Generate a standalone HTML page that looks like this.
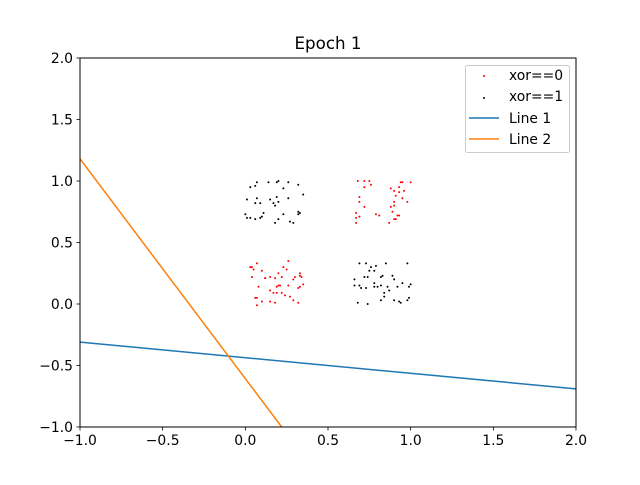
<!DOCTYPE html>
<html><head><meta charset="utf-8"><style>
body{margin:0;background:#fff}
svg text{font-family:"DejaVu Sans","Liberation Sans",sans-serif;fill:#000}
</style></head><body>
<svg id="chart" width="640" height="480" xmlns="http://www.w3.org/2000/svg">
<rect width="640" height="480" fill="#fff"/>
<text x="328" y="49" font-size="16.7" text-anchor="middle">Epoch 1</text>
<g id="plot"></g>
<rect x="80" y="58" width="496" height="369" fill="none" stroke="#000" stroke-width="1"/>
<g id="axes"></g>
<g>
<rect x="465.5" y="65.5" width="104" height="87" rx="2" fill="#fff" fill-opacity="0.8" stroke="#ccc"/>
<circle cx="484" cy="76" r="1" fill="red"/>
<text x="509" y="80" font-size="13.9">xor==0</text>
<circle cx="484" cy="98" r="1" fill="#000"/>
<text x="509" y="101" font-size="13.9">xor==1</text>
<line x1="469" y1="118" x2="499" y2="118" stroke="#1f77b4" stroke-width="1.5"/>
<text x="509" y="123" font-size="13.9">Line 1</text>
<line x1="469" y1="139" x2="499" y2="139" stroke="#ff7f0e" stroke-width="1.5"/>
<text x="509" y="144" font-size="13.9">Line 2</text>
</g>
</svg>
<script>
const xTicks=[-1.0,-0.5,0.0,0.5,1.0,1.5,2.0];
const yTicks=[-1.0,-0.5,0.0,0.5,1.0,1.5,2.0];
const xTickLabels=["\u22121.0","\u22120.5","0.0","0.5","1.0","1.5","2.0"];
const yTickLabels=["\u22121.0","\u22120.5","0.0","0.5","1.0","1.5","2.0"];
const redX=[0.68,0.72,0.75,0.76,0.72,0.94,0.95,1.00,0.88,0.93,0.96,0.90,0.93,0.91,0.69,0.69,0.95,0.98,0.90,0.72,0.90,0.88,0.89,0.67,0.69,0.79,0.81,0.92,0.93,0.67,0.67,0.87,0.90,0.91,
0.07,0.03,0.04,0.05,0.26,0.10,0.23,0.25,0.20,0.04,0.12,0.12,0.15,0.18,0.22,0.30,0.33,0.33,0.34,0.29,0.08,0.20,0.21,0.26,0.35,0.33,0.32,0.15,0.19,0.17,0.19,0.22,0.24,0.27,0.06,0.07,0.10,0.15,0.18,0.29,0.32,0.07];
const redY=[1.00,1.00,1.00,0.97,0.95,0.99,0.99,0.99,0.94,0.95,0.92,0.92,0.91,0.88,0.87,0.83,0.86,0.83,0.83,0.79,0.80,0.79,0.75,0.74,0.71,0.73,0.72,0.72,0.72,0.70,0.66,0.66,0.69,0.69,
0.33,0.30,0.30,0.28,0.35,0.27,0.30,0.28,0.25,0.22,0.21,0.21,0.22,0.21,0.22,0.22,0.25,0.23,0.22,0.20,0.14,0.15,0.15,0.15,0.16,0.14,0.13,0.11,0.14,0.09,0.09,0.09,0.07,0.06,0.05,0.05,0.02,0.02,0.01,0.03,0.01,-0.01];
const blackX=[0.07,0.03,0.06,0.14,0.19,0.20,0.26,0.32,0.23,0.35,0.01,0.07,0.06,0.09,0.15,0.17,0.19,0.20,0.26,0.18,0.00,0.01,0.03,0.06,0.09,0.10,0.11,0.23,0.20,0.18,0.27,0.29,0.32,0.33,0.32,
0.69,0.73,0.76,0.79,0.85,0.98,0.75,0.78,0.72,0.74,0.82,0.83,0.89,0.66,0.90,0.78,0.66,0.69,0.70,0.73,0.78,0.80,0.82,0.86,0.87,0.92,0.95,0.99,1.00,0.84,0.84,0.82,0.90,0.93,0.94,0.99,0.98,0.68,0.74];
const blackY=[0.99,0.95,0.96,0.99,0.99,1.00,0.99,0.97,0.94,0.89,0.85,0.86,0.82,0.82,0.85,0.82,0.87,0.83,0.86,0.80,0.73,0.70,0.70,0.69,0.70,0.71,0.74,0.73,0.69,0.66,0.67,0.66,0.73,0.74,0.75,
0.33,0.33,0.30,0.31,0.33,0.33,0.27,0.27,0.22,0.22,0.22,0.23,0.23,0.20,0.20,0.17,0.15,0.15,0.13,0.13,0.14,0.14,0.15,0.14,0.11,0.14,0.17,0.14,0.16,0.09,0.06,0.03,0.03,0.02,0.01,0.05,0.03,0.01,0.00];
const line1X=[-1.0,2.0];
const line1Y=[-0.31,-0.69];
const line2X=[-1.0,0.22];
const line2Y=[1.18,-1.0];

const NS="http://www.w3.org/2000/svg";
const L=80,R=576,T=58,B=427,xmin=-1,xmax=2,ymin=-1,ymax=2;
function sx(v){return L+(v-xmin)/(xmax-xmin)*(R-L);}
function sy(v){return B-(v-ymin)/(ymax-ymin)*(B-T);}
function mk(tag,attrs,parent){const e=document.createElementNS(NS,tag);for(const k in attrs)e.setAttribute(k,attrs[k]);parent.appendChild(e);return e;}
const plot=document.getElementById('plot');
const axes=document.getElementById('axes');
const clip=mk('clipPath',{id:'clip'},plot);
mk('rect',{x:L,y:T,width:R-L,height:B-T},clip);
const g=mk('g',{'clip-path':'url(#clip)'},plot);
for(let i=0;i<redX.length;i++){
 const c=mk('circle',{cx:sx(redX[i]),cy:sy(redY[i]),r:1,fill:'red'},g);
 
 
}
for(let i=0;i<blackX.length;i++){
 const c=mk('circle',{cx:sx(blackX[i]),cy:sy(blackY[i]),r:1,fill:'#000'},g);
 
 
}
const l1=mk('line',{x1:sx(line1X[0]),y1:sy(line1Y[0]),x2:sx(line1X[1]),y2:sy(line1Y[1]),stroke:'#1f77b4','stroke-width':1.5},g);


const l2=mk('line',{x1:sx(line2X[0]),y1:sy(line2Y[0]),x2:sx(line2X[1]),y2:sy(line2Y[1]),stroke:'#ff7f0e','stroke-width':1.5},g);


xTicks.forEach((v,i)=>{
 const x=sx(v);
 mk('line',{x1:x,y1:B,x2:x,y2:B+3.5,stroke:'#000','stroke-width':0.8},axes);
 const t=mk('text',{x:x,y:B+18,'font-size':13.9,'text-anchor':'middle'},axes);
 t.textContent=xTickLabels[i];
 
 
});
yTicks.forEach((v,i)=>{
 const y=sy(v);
 mk('line',{x1:L-3.5,y1:y,x2:L,y2:y,stroke:'#000','stroke-width':0.8},axes);
 const t=mk('text',{x:L-7,y:y+5,'font-size':13.9,'text-anchor':'end'},axes);
 t.textContent=yTickLabels[i];
 
 
});
</script>
</body></html>
